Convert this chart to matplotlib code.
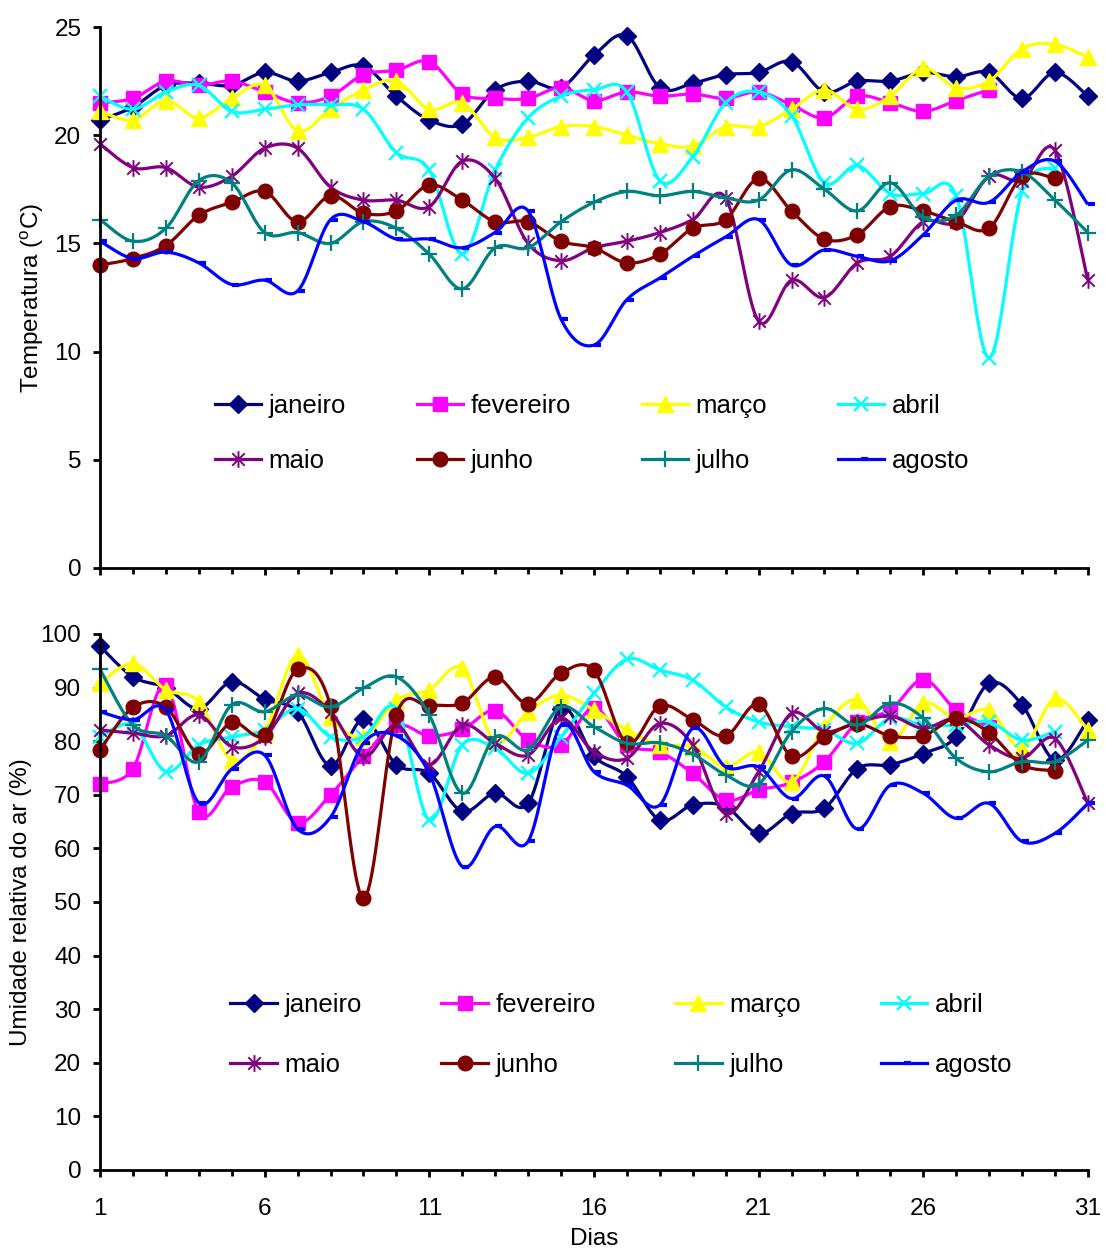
import matplotlib
matplotlib.use("Agg")
import matplotlib.pyplot as plt
import numpy as np
from matplotlib.path import Path
from matplotlib.ticker import MultipleLocator, FixedLocator

plt.rcParams["font.family"] = ["Liberation Sans", "DejaVu Sans"]
plt.rcParams["mathtext.fontset"] = "custom"
plt.rcParams["mathtext.rm"] = "Liberation Sans"

months = ["janeiro", "fevereiro", "março", "abril", "maio", "junho", "julho", "agosto"]

# temperatura media diaria (C), dias 1..n
temp_jan = [20.7, 21.3, 22.3, 22.4, 22.3, 22.9, 22.5, 22.9, 23.2, 21.8, 20.7, 20.5, 22.1, 22.5, 22.2,
            23.7, 24.6, 22.2, 22.4, 22.8, 22.9, 23.4, 22.0, 22.5, 22.5, 22.9, 22.7, 22.9, 21.7, 22.9, 21.8]
temp_fev = [21.5, 21.7, 22.5, 22.3, 22.5, 22.0, 21.5, 21.8, 22.8, 23.0, 23.4, 21.9, 21.7, 21.7, 22.2,
            21.6, 22.0, 21.8, 21.9, 21.7, 22.0, 21.4, 20.8, 21.8, 21.5, 21.1, 21.6, 22.1]
temp_mar = [21.1, 20.7, 21.6, 20.8, 21.7, 22.3, 20.2, 21.2, 22.1, 22.5, 21.2, 21.5, 19.9, 19.9, 20.4,
            20.4, 20.0, 19.6, 19.5, 20.4, 20.4, 21.2, 22.1, 21.2, 21.8, 23.1, 22.2, 22.5, 24.0, 24.2, 23.6]
temp_abr = [21.8, 21.2, 22.0, 22.3, 21.1, 21.2, 21.4, 21.4, 21.2, 19.2, 18.4, 14.5, 18.4, 20.8, 21.8,
            22.1, 22.0, 17.9, 19.0, 21.5, 22.0, 20.9, 17.8, 18.6, 17.3, 17.3, 17.2, 9.7, 17.4, 18.5]
temp_mai = [19.6, 18.5, 18.5, 17.6, 18.1, 19.4, 19.4, 17.6, 17.0, 17.0, 16.7, 18.8, 18.0, 15.0, 14.2,
            14.8, 15.1, 15.5, 16.1, 17.1, 11.4, 13.3, 12.5, 14.1, 14.4, 16.0, 16.0, 18.1, 17.9, 19.3, 13.3]
temp_jun = [14.0, 14.3, 14.9, 16.3, 16.9, 17.4, 16.0, 17.2, 16.4, 16.5, 17.7, 17.0, 16.0, 16.0, 15.1,
            14.8, 14.1, 14.5, 15.7, 16.1, 18.0, 16.5, 15.2, 15.4, 16.7, 16.5, 16.0, 15.7, 18.1, 18.0]
temp_jul = [16.1, 15.1, 15.7, 17.9, 17.8, 15.5, 15.5, 15.0, 16.0, 15.7, 14.5, 12.9, 14.8, 14.8, 16.0,
            16.9, 17.4, 17.2, 17.4, 17.1, 17.0, 18.4, 17.5, 16.5, 17.8, 16.2, 16.3, 18.1, 18.3, 17.0, 15.5]
temp_ago = [15.1, 14.3, 14.6, 14.1, 13.1, 13.3, 12.8, 16.1, 16.0, 15.2, 15.2, 14.8, 15.5, 16.5, 11.5,
            10.3, 12.4, 13.4, 14.4, 15.3, 16.1, 14.0, 14.7, 14.4, 14.2, 15.4, 17.0, 16.9, 18.3, 18.8, 16.8]

# umidade relativa media diaria (%)
umid_jan = [97.7, 92.0, 90.0, 86.1, 91.1, 87.8, 85.5, 75.4, 84.1, 75.6, 74.0, 66.9, 70.3, 68.4, 86.1,
            77.2, 73.4, 65.3, 68.1, 67.8, 62.8, 66.5, 67.5, 74.9, 75.6, 77.7, 80.8, 90.8, 86.8, 76.5, 84.0]
umid_fev = [72.0, 74.9, 90.5, 66.7, 71.5, 72.4, 64.8, 70.0, 77.2, 83.0, 81.0, 82.2, 85.7, 80.2, 79.3,
            86.2, 79.3, 78.0, 74.0, 69.0, 70.9, 72.3, 76.2, 83.5, 85.8, 91.5, 85.8, 82.7]
umid_mar = [90.8, 94.5, 89.6, 87.4, 76.5, 81.8, 96.1, 84.6, 80.8, 87.7, 89.6, 93.6, 79.9, 85.5, 88.6,
            85.8, 82.1, 79.3, 79.0, 75.2, 78.0, 72.4, 82.7, 87.7, 79.9, 87.1, 84.3, 85.8, 78.7, 88.0, 82.1]
umid_abr = [80.8, 83.0, 74.3, 79.3, 80.8, 82.1, 86.1, 80.8, 80.8, 86.1, 65.3, 79.3, 78.7, 74.0, 80.8,
            88.9, 95.3, 93.3, 91.4, 86.4, 83.6, 82.7, 82.1, 79.6, 84.3, 83.0, 83.0, 83.6, 80.2, 81.8]
umid_mai = [82.1, 81.5, 81.0, 84.9, 79.0, 80.7, 88.9, 85.5, 77.1, 83.0, 75.6, 83.0, 79.6, 77.4, 84.3,
            78.0, 76.8, 83.3, 79.3, 66.5, 74.3, 85.2, 81.8, 83.5, 84.7, 82.4, 84.1, 79.3, 76.8, 80.5, 68.4]
umid_jun = [78.4, 86.3, 86.4, 77.7, 83.5, 81.2, 93.4, 86.6, 50.7, 84.9, 86.6, 87.1, 92.0, 87.0, 92.7,
            93.2, 79.6, 86.6, 84.0, 81.0, 86.9, 77.2, 80.7, 83.2, 81.0, 81.0, 84.3, 81.6, 75.6, 74.5]
umid_jul = [93.4, 83.0, 81.0, 76.2, 86.8, 85.5, 88.6, 86.4, 89.9, 92.0, 84.9, 70.3, 80.8, 78.4, 86.4,
            82.7, 79.6, 79.7, 77.6, 73.7, 72.0, 81.8, 86.1, 83.0, 87.1, 84.3, 76.8, 74.3, 76.2, 76.2, 80.2]
umid_ago = [85.5, 84.0, 85.8, 68.5, 74.8, 77.4, 63.6, 65.8, 79.6, 81.0, 74.0, 56.6, 64.1, 61.3, 83.0,
            74.3, 71.8, 68.1, 82.4, 75.2, 75.2, 69.3, 73.5, 63.6, 71.8, 70.3, 65.6, 68.4, 61.3, 62.8, 68.4]

temperature = [temp_jan, temp_fev, temp_mar, temp_abr, temp_mai, temp_jun, temp_jul, temp_ago]
humidity = [umid_jan, umid_fev, umid_mar, umid_abr, umid_mai, umid_jun, umid_jul, umid_ago]

colors = ["#000080", "#ff00ff", "#ffff00", "#00ffff", "#800080", "#800000", "#008080", "#0000ff"]

asterisk = Path(
    [(0, -1), (0, 1), (-0.75, -0.75), (0.75, 0.75), (-0.75, 0.75), (0.75, -0.75)],
    [Path.MOVETO, Path.LINETO] * 3,
)
dash = Path([(0, 0), (1, 0)], [Path.MOVETO, Path.LINETO])

marker_styles = [
    dict(marker="D", ms=9),
    dict(marker="s", ms=10),
    dict(marker="^", ms=11),
    dict(marker="x", ms=10, mew=1.6),
    dict(marker=asterisk, ms=12, mew=1.4, mfc="none"),
    dict(marker="o", ms=10.5),
    dict(marker="+", ms=12, mew=1.6),
    dict(marker=dash, ms=10, mew=3),
]


def smooth_curve(x, y, steps=16):
    """Excel-like smoothed line: cubic Bezier through the points (Catmull-Rom)."""
    pts = np.column_stack([x, y]).astype(float)
    n = len(pts)
    out = [pts[:1]]
    t = np.linspace(0, 1, steps + 1)[1:, None]
    for i in range(n - 1):
        p0 = pts[i - 1] if i > 0 else pts[i]
        p1, p2 = pts[i], pts[i + 1]
        p3 = pts[i + 2] if i + 2 < n else pts[i + 1]
        c1 = p1 + (p2 - p0) / 6
        c2 = p2 - (p3 - p1) / 6
        seg = ((1 - t) ** 3) * p1 + 3 * ((1 - t) ** 2) * t * c1 + 3 * (1 - t) * t ** 2 * c2 + t ** 3 * p2
        out.append(seg)
    curve = np.vstack(out)
    return curve[:, 0], curve[:, 1]


def draw_panel(ax, series, ylim, ystep, ylabel):
    proxies = []
    for name, vals, color, mstyle in zip(months, series, colors, marker_styles):
        days = np.arange(1, len(vals) + 1)
        sx, sy = smooth_curve(days, vals)
        ax.plot(sx, sy, color=color, lw=2.3, clip_on=False, solid_capstyle="butt")
        ax.plot(days, vals, ls="none", color=color, mec=color, clip_on=False, **mstyle)
        # legend proxy: line + marker
        proxies.append(ax.plot([], [], color=color, lw=2.3, mec=color, label=name, **mstyle)[0])

    ax.set_xlim(1, 31)
    ax.set_ylim(*ylim)
    ax.yaxis.set_major_locator(MultipleLocator(ystep))
    ax.xaxis.set_major_locator(FixedLocator(range(1, 32, 5)))
    ax.xaxis.set_minor_locator(FixedLocator(range(1, 32)))
    for side in ("top", "right"):
        ax.spines[side].set_visible(False)
    for side in ("left", "bottom"):
        ax.spines[side].set_linewidth(2.0)
    ax.tick_params(axis="both", which="major", direction="out", width=2.0, length=5,
                   labelsize=17.5, colors="black")
    ax.tick_params(axis="x", which="minor", direction="out", width=2.0, length=4)
    ax.tick_params(axis="y", pad=8.5)
    ax.tick_params(axis="x", pad=15)
    ax.set_ylabel(ylabel, fontsize=17.5, labelpad=6)
    # matplotlib fills legend columns first; reorder so entries read row by row
    order = [0, 4, 1, 5, 2, 6, 3, 7]
    return [proxies[i] for i in order]


fig = plt.figure(figsize=(11.05, 12.5), dpi=100)
ax_t = fig.add_axes([0.0905, 0.5456, 0.894, 0.4328])
ax_h = fig.add_axes([0.0905, 0.064, 0.894, 0.4288])

handles_t = draw_panel(ax_t, temperature, (0, 25), 5, "Temperatura ($^{\\mathrm{o}}$C)")
handles_h = draw_panel(ax_h, humidity, (0, 100), 10, "Umidade relativa do ar (%)")

ax_t.tick_params(axis="x", labelbottom=False)
ax_h.set_xlabel("Dias", fontsize=17.5, labelpad=6)

legend_kw = dict(ncol=4, frameon=False, fontsize=18.5, handlelength=1.8, handletextpad=0.3,
                 borderpad=0, borderaxespad=0, numpoints=1, loc="upper left")
ax_t.legend(handles=handles_t, bbox_to_anchor=(0.116, 0.322), columnspacing=2.75,
            labelspacing=1.2, **legend_kw)
ax_h.legend(handles=handles_h, bbox_to_anchor=(0.132, 0.330), columnspacing=3.1,
            labelspacing=1.38, **legend_kw)

fig.savefig("out.png", dpi=100)
